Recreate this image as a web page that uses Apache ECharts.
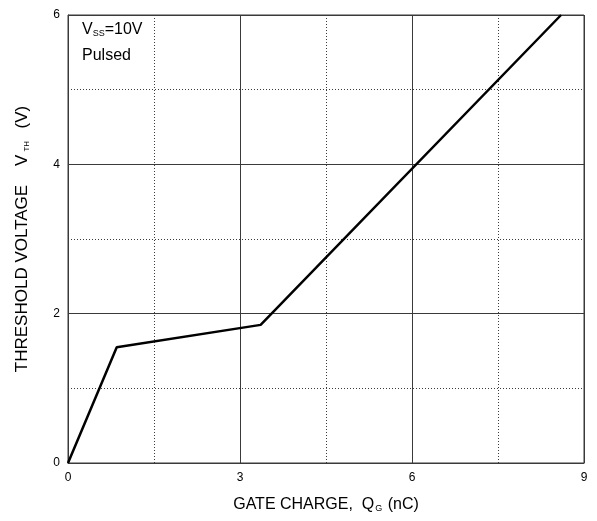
<!DOCTYPE html>
<html>
<head>
<meta charset="utf-8">
<script src="https://cdn.jsdelivr.net/npm/echarts@6/dist/echarts.min.js"></script>
<style>
  html, body { margin: 0; padding: 0; background: #fff; }
  #chart { width: 597px; height: 521px; }
</style>
</head>
<body>
<div id="chart"></div>
<script>
// Threshold voltage versus gate charge
const gateCharge = [0, 0.85, 3.36, 8.6];          // nC
const thresholdVoltage = [0, 1.55, 1.85, 6];      // V
const xTicks = [0, 3, 6, 9];
const yTicks = [0, 2, 4, 6];

const FONT = '"Liberation Sans", Arial, sans-serif';
const gridColor = '#3a3a3a';

const chart = echarts.init(document.getElementById('chart'), null, { renderer: 'canvas' });

chart.setOption({
  backgroundColor: '#fff',
  animation: false,
  grid: {
    left: 68, right: 13, top: 15, bottom: 58,
    show: true, borderColor: gridColor, borderWidth: 1
  },
  xAxis: {
    type: 'value',
    min: xTicks[0], max: xTicks[xTicks.length - 1], interval: 3,
    axisLine: { show: true, lineStyle: { color: gridColor, width: 1 } },
    axisTick: { show: false },
    axisLabel: { color: '#000', fontFamily: FONT, fontSize: 12, margin: 9 },
    splitLine: { show: true, lineStyle: { color: gridColor, width: 1 } },
    minorTick: { show: false, splitNumber: 2 },
    minorSplitLine: { show: true, lineStyle: { color: gridColor, width: 1, type: [1, 2] } },
    name: '{t|GATE CHARGE,  Q}{s|G}{t| (nC)}',
    nameLocation: 'middle',
    nameGap: 34,
    nameTextStyle: {
      fontFamily: FONT, color: '#000',
      rich: {
        t: { fontFamily: FONT, fontSize: 16, color: '#000' },
        s: { fontFamily: FONT, fontSize: 9, color: '#000', verticalAlign: 'bottom', padding: [6, 1, 0, 1] }
      }
    }
  },
  yAxis: {
    type: 'value',
    min: yTicks[0], max: yTicks[yTicks.length - 1], interval: 2,
    axisLine: { show: true, lineStyle: { color: gridColor, width: 1 } },
    axisTick: { show: false },
    axisLabel: { color: '#000', fontFamily: FONT, fontSize: 12, margin: 8 },
    splitLine: { show: true, lineStyle: { color: gridColor, width: 1 } },
    minorTick: { show: false, splitNumber: 2 },
    minorSplitLine: { show: true, lineStyle: { color: gridColor, width: 1, type: [1, 2] } },
    name: '{t|THRESHOLD VOLTAGE    V}{s|TH}{t|  (V)}',
    nameLocation: 'middle',
    nameRotate: 90,
    nameGap: 37,
    nameTextStyle: {
      fontFamily: FONT, color: '#000',
      rich: {
        t: { fontFamily: FONT, fontSize: 17, color: '#000' },
        s: { fontFamily: FONT, fontSize: 8, color: '#000', verticalAlign: 'bottom', padding: [8, 3, 0, 3] }
      }
    }
  },
  graphic: [
    {
      type: 'text',
      left: 82, top: 22,
      style: {
        text: '{t|V}{s|SS}{t|=10V}',
        rich: {
          t: { fontFamily: FONT, fontSize: 16, fill: '#000' },
          s: { fontFamily: FONT, fontSize: 9, fill: '#000', verticalAlign: 'bottom', padding: [6, 0, 0, 0] }
        }
      }
    },
    {
      type: 'text',
      left: 82, top: 48,
      style: { text: 'Pulsed', font: '16px ' + FONT, fill: '#000' }
    }
  ],
  series: [
    {
      type: 'line',
      data: gateCharge.map((q, i) => [q, thresholdVoltage[i]]),
      symbol: 'none',
      lineStyle: { color: '#000', width: 2.5 },
      clip: false
    }
  ]
});
</script>
</body>
</html>
